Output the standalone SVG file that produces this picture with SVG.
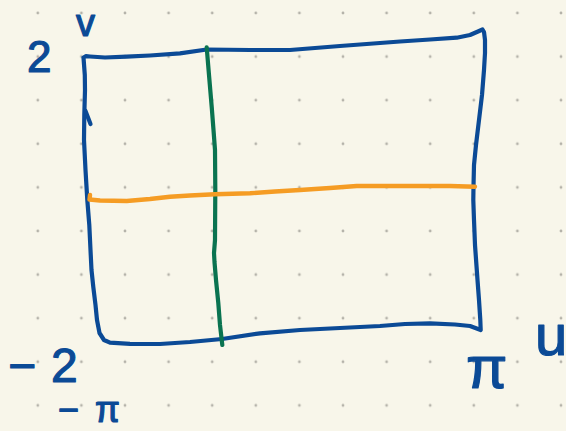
<svg xmlns="http://www.w3.org/2000/svg" width="566" height="431" viewBox="0 0 566 431">
<defs>
<pattern id="dots" x="37.8" y="13" width="43.6" height="43.6" patternUnits="userSpaceOnUse">
<circle cx="0" cy="0" r="1.4" fill="#b5b3aa"/>
<circle cx="43.6" cy="0" r="1.4" fill="#b5b3aa"/>
<circle cx="0" cy="43.6" r="1.4" fill="#b5b3aa"/>
<circle cx="43.6" cy="43.6" r="1.4" fill="#b5b3aa"/>
</pattern>
<style>
.ink{fill:none;stroke-linecap:round;stroke-linejoin:round}
.blue{stroke:#0b4a96;stroke-width:4.2}
.green{stroke:#0a7350;stroke-width:4.2}
.orange{stroke:#f59c24;stroke-width:4.4}
.lbl{font-family:"Liberation Sans",Arial,sans-serif;fill:#0b4a96;stroke:#0b4a96;stroke-width:1.2;stroke-linejoin:round}
</style>
</defs>
<rect width="566" height="431" fill="#f8f6ea"/>
<rect width="566" height="431" fill="url(#dots)"/>
<g id="frame">
<polyline class="ink blue" points="83.5,57.5 84.8,75 85,90 84.3,115 84,140 85.5,170 87.3,200 89.3,225 90.5,250 91.5,270 93.3,287 95.5,305 97,320 99.5,333 104,340 110,342.7 130,343.8 160,344 190,342 222,339 260,333.3 300,330 340,328 380,326 405,324 430,323.3 455,324.5 470,326 480.7,330 480.3,320 479,300 477.5,280 476.5,266 475,245 474,220 473.3,200 473.5,186 474,165 476,145 479,120 482,95 484,70 485,53 485,40 484,32 482.5,29.5 478,31.5 470,35 456.7,37.7 430,39.5 400,41.5 380,43 340,46 290,50 250,50 206.7,49.5 180,53.3 150,55.5 126.7,56.7 105,57.5 90,56.5 86,56.2 83.5,57.5"/>
<path class="ink blue" d="M85.5,111 L90.5,124"/>
</g>
<g id="connectors">
<polyline id="green-line" class="ink green" points="206.7,47.3 209,75 211.7,106.7 213.5,130 215,150 215.3,190 215,240 214,253 214.5,262 216,280 218.3,303 220,325 222.3,345"/>
<polyline id="orange-line" class="ink orange" points="90,195 89.5,199.5 100,200.5 126.7,201 150,199 170,196.7 190,195.5 215,194.3 250,193.3 275,191.5 300,190 330,188 356.7,186 413,186 450,186 475,186.7"/>
</g>
<g id="labels">
<text id="label-2" class="lbl" x="27" y="72" font-size="44">2</text>
<text id="label-v" class="lbl" x="76" y="36" font-size="38">v</text>
<text id="label-neg2" class="lbl" x="8 51" y="382" font-size="48">−2</text>
<text id="label-negpi" class="lbl" x="58 95" y="422" font-size="36">−π</text>
<text id="label-pi" class="lbl" x="466" y="388" font-size="60">π</text>
<text id="label-u" class="lbl" x="535" y="355" font-size="58">u</text>
</g>
</svg>
